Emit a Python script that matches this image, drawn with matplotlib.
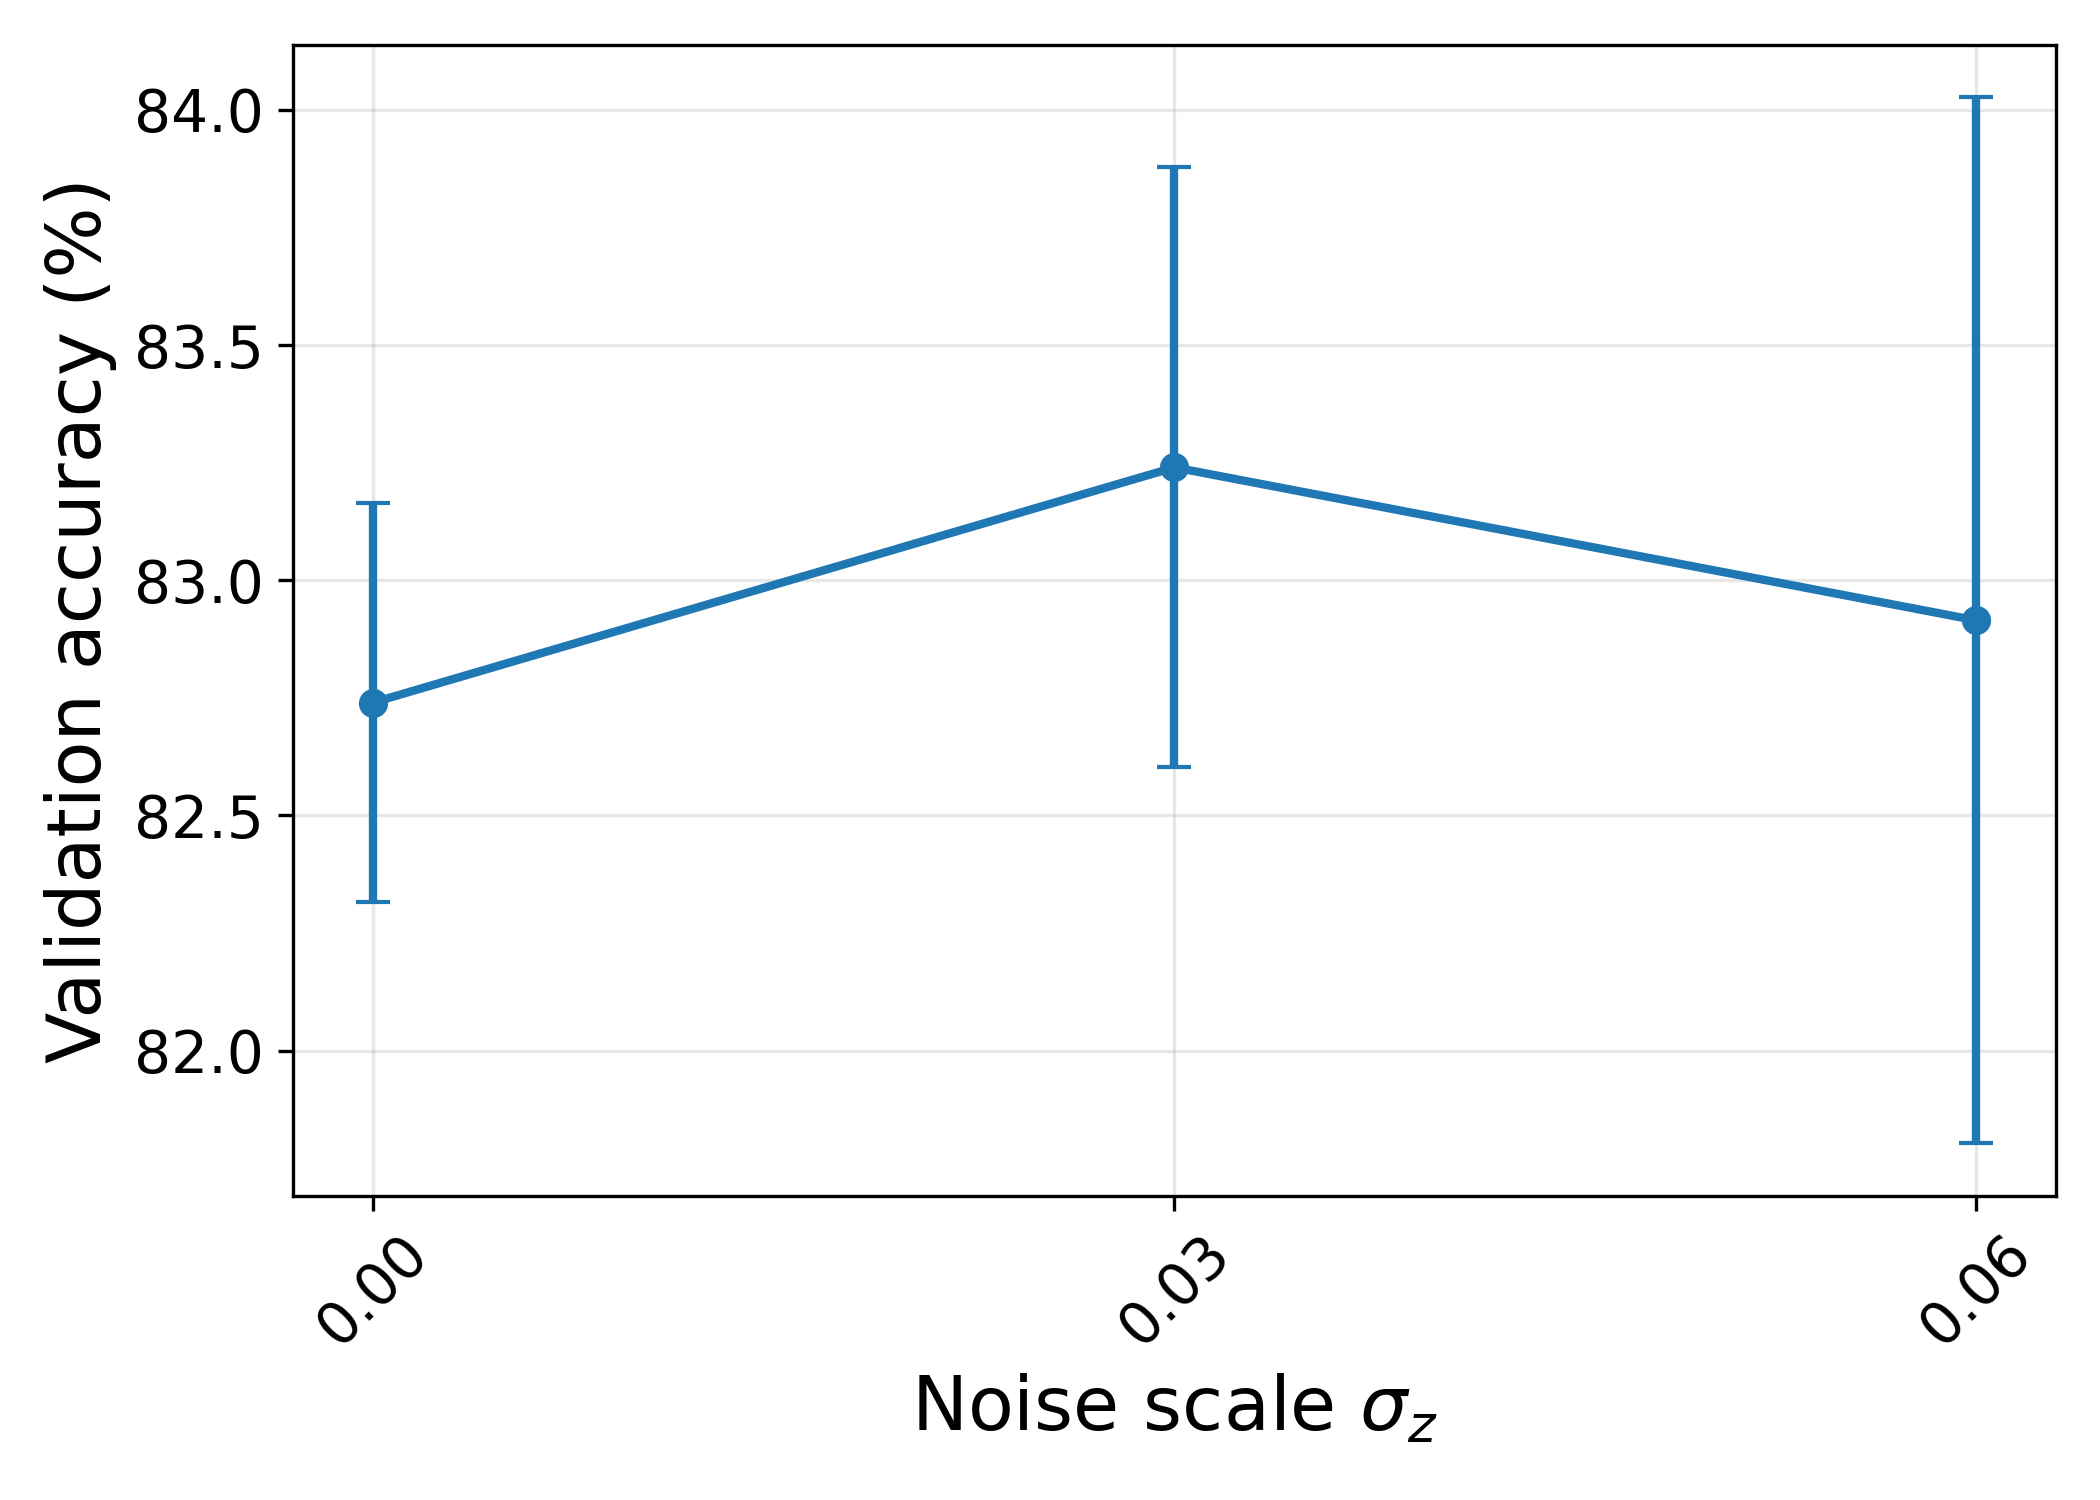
import matplotlib
matplotlib.use('Agg')
import matplotlib.pyplot as plt

noise_labels = ['0.00', '0.03', '0.06']
noise_pos = [0, 1, 2]
acc_mean = [82.74, 83.24, 82.915]
acc_std = [0.425, 0.638, 1.112]

fig, axis = plt.subplots(1, 1, figsize=(7, 5), dpi=300)
fig.subplots_adjust(left=0.1395, right=0.979, top=0.970, bottom=0.203)

axis.errorbar(noise_pos, acc_mean, yerr=acc_std, marker='o', markersize=6,
	linewidth=2, elinewidth=2, capsize=4, color='#1f77b4')

axis.set_xticks(noise_pos)
axis.set_xticklabels(noise_labels, rotation=45)
axis.tick_params(labelsize=14)
axis.set_xlabel(r'Noise scale $\sigma_z$', fontsize=18)
axis.set_ylabel('Validation accuracy (%)', fontsize=18)
axis.grid(True, alpha=0.3)

plt.savefig('out.png', dpi=300)
